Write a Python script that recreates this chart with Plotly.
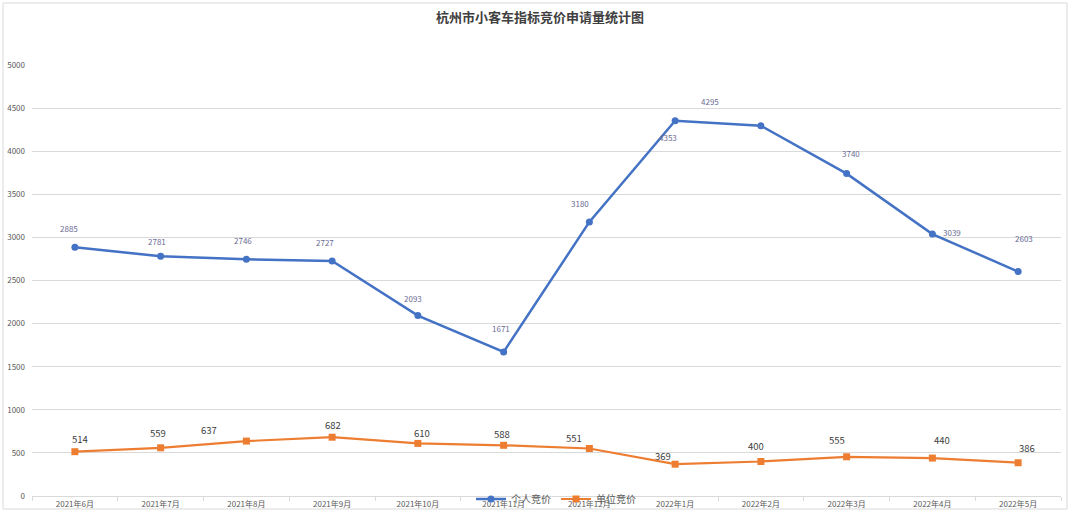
import plotly.graph_objects as go

categories = ["2021年6月", "2021年7月", "2021年8月", "2021年9月", "2021年10月", "2021年11月",
              "2021年12月", "2022年1月", "2022年2月", "2022年3月", "2022年4月", "2022年5月"]
personal_values = [2885, 2781, 2746, 2727, 2093, 1671, 3180, 4353, 4295, 3740, 3039, 2603]
unit_values = [514, 559, 637, 682, 610, 588, 551, 369, 400, 455, 440, 386]
personal_labels = ["2885", "2781", "2746", "2727", "2093", "1671", "3180", "4353", "4295", "3740", "3039", "2603"]
unit_labels = ["514", "559", "637", "682", "610", "588", "551", "369", "400", "555", "440", "386"]
y_ticks = [0, 500, 1000, 1500, 2000, 2500, 3000, 3500, 4000, 4500, 5000]

# label offsets in pixels (dx right, dy up)
personal_offsets = [(-6, 19), (-4, 15), (-3, 19), (-7, 18), (-5, 17), (-3, 23),
                    (-9, 18), (-7, -17), (-51, 24), (4, 20), (20, 2), (6, 33)]
unit_offsets = [(5, 13), (-3, 15), (-37, 11), (1, 12), (4, 10), (-2, 11),
                (-15, 11), (-12, 8), (-5, 16), (-10, 17), (10, 18), (9, 15)]

BLUE = "#4472C4"
ORANGE = "#ED7D31"
FONT = "Noto Sans CJK SC"

fig = go.Figure()
fig.add_trace(go.Scatter(x=categories, y=personal_values, name="个人竞价", mode="lines+markers",
                         line=dict(color=BLUE, width=2.5), marker=dict(symbol="circle", size=7, color=BLUE)))
fig.add_trace(go.Scatter(x=categories, y=unit_values, name="单位竞价", mode="lines+markers",
                         line=dict(color=ORANGE, width=2.2), marker=dict(symbol="square", size=7, color=ORANGE)))

annotations = []
for c, v, t, (dx, dy) in zip(categories, personal_values, personal_labels, personal_offsets):
    annotations.append(dict(x=c, y=v, xref="x", yref="y", text=t, showarrow=False,
                            xshift=dx, yshift=dy, font=dict(family=FONT, size=8, color="#6B6B93")))
for c, v, t, (dx, dy) in zip(categories, unit_values, unit_labels, unit_offsets):
    annotations.append(dict(x=c, y=v, xref="x", yref="y", text=t, showarrow=False,
                            xshift=dx, yshift=dy, font=dict(family=FONT, size=9.5, color="#404040")))

L, R, T, B = 32, 1061, 65, 496
def px(xp):
    return (xp - L) / (R - L)
def py(yp):
    return (B - yp) / (B - T)

fig.update_layout(
    width=1080, height=520,
    margin=dict(l=L, r=1080 - R, t=T, b=520 - B, autoexpand=False),
    paper_bgcolor="white", plot_bgcolor="white",
    font=dict(family=FONT, color="#595959"),
    title=dict(text="<b>杭州市小客车指标竞价申请量统计图</b>", x=0.5, xref="container",
               y=1 - 17 / 520, yref="container", xanchor="center", yanchor="middle",
               font=dict(family=FONT, size=13, color="#404040")),
    showlegend=True,
    legend=dict(orientation="h", x=px(556), y=py(499), xanchor="center", yanchor="middle",
                bgcolor="rgba(0,0,0,0)", font=dict(family=FONT, size=10, color="#595959"),
                itemwidth=30, tracegroupgap=0),
    annotations=annotations,
    shapes=[dict(type="rect", xref="paper", yref="paper", x0=px(3), x1=px(1067), y0=py(509), y1=py(3),
                 line=dict(color="#D9D9D9", width=1), layer="below")],
)
fig.update_xaxes(type="category", range=[-0.5, len(categories) - 0.5], showgrid=False, showline=True,
                 linecolor="#D9D9D9", linewidth=1,
                 ticks="outside", tickson="boundaries", ticklen=4, tickcolor="#D9D9D9", automargin=False,
                 tickfont=dict(family=FONT, size=8, color="#595959"), fixedrange=True)
fig.update_yaxes(range=[0, 5000], tickvals=y_ticks, showgrid=True, gridcolor="#D9D9D9", gridwidth=1,
                 zeroline=False, showline=False, ticks="", ticklabelstandoff=6, automargin=False,
                 tickfont=dict(family=FONT, size=8, color="#595959"), fixedrange=True)

fig.write_html("out.html")
